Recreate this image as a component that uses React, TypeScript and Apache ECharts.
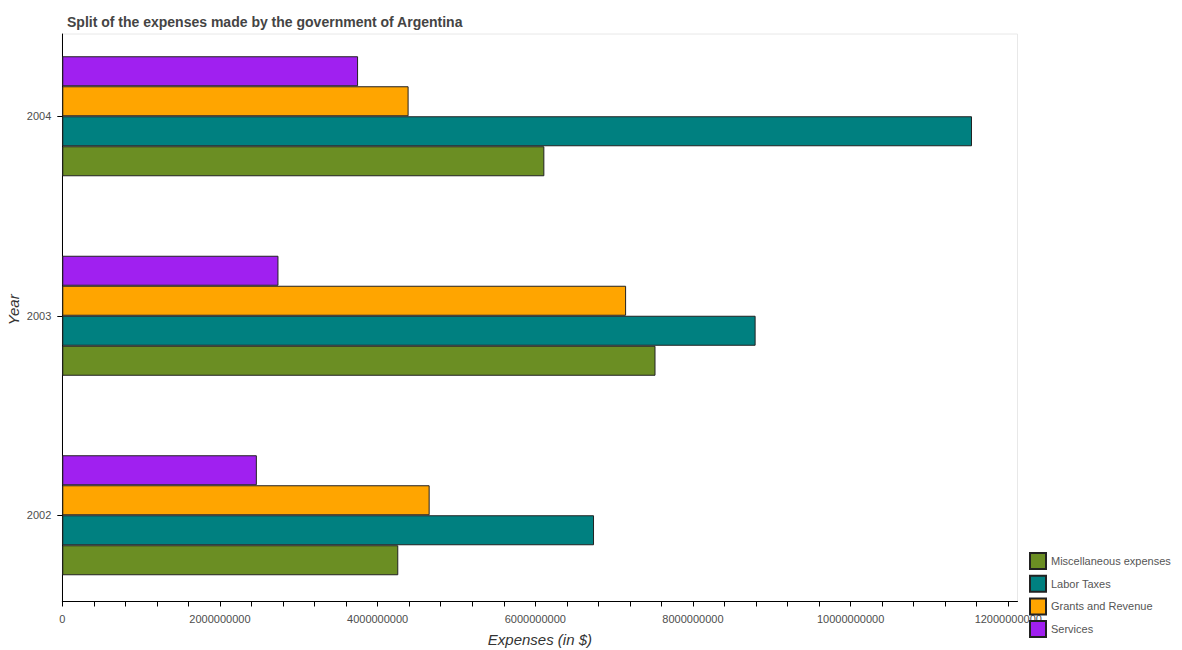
import * as echarts from "echarts";
import { useEffect, useRef } from "react";

const years = ["2002", "2003", "2004"];
const miscExpenses = [4.262e9, 7.525e9, 6.115e9];
const laborTaxes = [6.745e9, 8.795e9, 11.54e9];
const grantsRevenue = [4.66e9, 7.152e9, 4.393e9];
const services = [2.468e9, 2.742e9, 3.752e9];
const xLabelValues = [0, 2e9, 4e9, 6e9, 8e9, 10e9, 12e9];

const FONT = "'Liberation Sans', Arial, sans-serif";

export default function App() {
  const ref = useRef<HTMLDivElement | null>(null);

  useEffect(() => {
    if (!ref.current) return;
    document.body.style.margin = "0";

    const chart = echarts.init(ref.current, null, { renderer: "svg" });

    const xMax = Math.max(...laborTaxes, ...miscExpenses, ...grantsRevenue, ...services) * 1.05;
    const tickValues: number[] = [];
    for (let v = 0; v <= 12e9 + 1; v += 0.4e9) tickValues.push(Math.round(v));

    const left = 62.3;
    const right = 1182 - 1017.5;

    const bar = (name: string, data: number[], color: string) => ({
      name,
      type: "bar" as const,
      xAxisIndex: 1,
      yAxisIndex: 1,
      data,
      barWidth: 30,
      barGap: "0%",
      itemStyle: { color, borderColor: "#222", borderWidth: 1 },
    });

    chart.setOption({
      animation: false,
      backgroundColor: "#fff",
      textStyle: { fontFamily: FONT },
      title: {
        text: "Split of the expenses made by the government of Argentina",
        left: 62,
        top: 10,
        textStyle: { fontSize: 14, fontWeight: "bold", color: "#444", fontFamily: FONT },
      },
      legend: {
        orient: "vertical",
        left: 1029,
        top: 552,
        padding: 0,
        itemWidth: 16,
        itemHeight: 16,
        itemGap: 4.7,
        icon: "rect",
        data: ["Miscellaneous expenses", "Labor Taxes", "Grants and Revenue", "Services"],
        textStyle: { fontSize: 11, color: "#555", fontFamily: FONT },
      },
      grid: [
        {
          left,
          right,
          top: 34,
          bottom: 650 - 601.5,
          outerBoundsMode: "none",
          containLabel: false,
          show: true,
          borderColor: "#e8e8e8",
          borderWidth: 1,
        },
        {
          left,
          right,
          top: 16.5,
          bottom: 35,
          outerBoundsMode: "none",
          containLabel: false,
        },
      ],
      xAxis: [
        {
          type: "value",
          gridIndex: 0,
          min: 0,
          max: xMax,
          name: "Expenses (in $)",
          nameLocation: "middle",
          nameGap: 30,
          nameTextStyle: { fontSize: 15, fontStyle: "italic", color: "#333", fontFamily: FONT },
          axisLine: { show: true, lineStyle: { color: "#000", width: 1 } },
          axisTick: { show: true, length: 5, customValues: tickValues, lineStyle: { color: "#000" } },
          axisLabel: {
            customValues: xLabelValues,
            fontSize: 11,
            color: "#4d4d4d",
            margin: 12,
            formatter: (v: number) => String(v),
          },
          splitLine: { show: false },
        },
        { type: "value", gridIndex: 1, min: 0, max: xMax, show: false },
      ],
      yAxis: [
        {
          type: "value",
          gridIndex: 0,
          min: 0,
          max: 1,
          name: "Year",
          nameLocation: "middle",
          nameGap: 41,
          nameTextStyle: {
            fontSize: 15,
            fontStyle: "italic",
            color: "#333",
            fontFamily: FONT,
            padding: [0, 0, 0, 16],
          },
          axisLine: { show: true, lineStyle: { color: "#000", width: 1 } },
          axisTick: { show: false },
          axisLabel: { show: false },
          splitLine: { show: false },
        },
        {
          type: "category",
          gridIndex: 1,
          data: years,
          axisLine: { show: false },
          axisTick: { show: true, length: 5, alignWithLabel: true, lineStyle: { color: "#000" } },
          axisLabel: { fontSize: 11, color: "#4d4d4d", margin: 11 },
        },
      ],
      series: [
        bar("Services", services, "#A020F0"),
        bar("Grants and Revenue", grantsRevenue, "#FFA500"),
        bar("Labor Taxes", laborTaxes, "#008080"),
        bar("Miscellaneous expenses", miscExpenses, "#6B8E23"),
      ],
    });

    return () => {
      chart.dispose();
    };
  }, []);

  return <div ref={ref} style={{ width: 1182, height: 650 }} />;
}
